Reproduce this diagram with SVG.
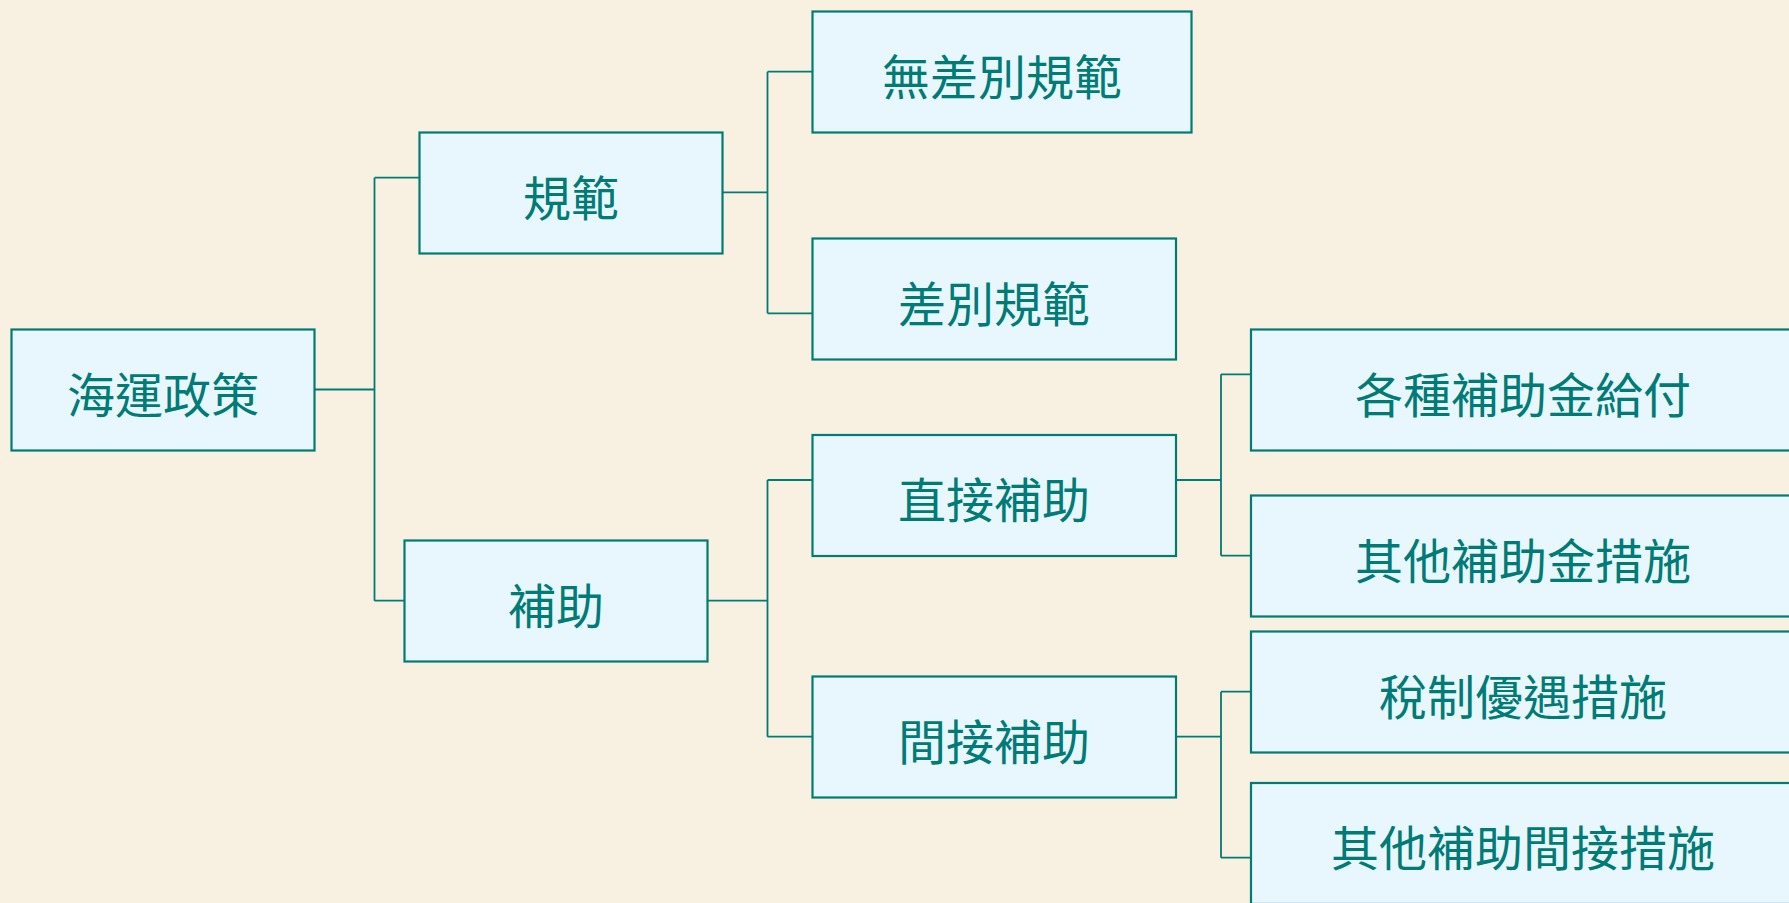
<svg xmlns="http://www.w3.org/2000/svg" width="1789" height="903" viewBox="0 0 1789 903">
<style>
.box{fill:#E8F6FE;stroke:#007B76;stroke-width:2.2}
.lbl{font-family:"Noto Sans CJK TC","Noto Sans CJK JP",sans-serif;font-size:48px;fill:#007B76;text-anchor:middle}
.conn{fill:none;stroke:#007B76;stroke-width:1.8}
</style>
<rect x="0" y="0" width="1789" height="903" fill="#F8F0E0"/>
<g id="connectors">
<path class="conn" d="M314.3,389.5H374.5M374.5,177.7V600.7M374.5,177.7H419.3M374.5,600.7H404.7"/>
<path class="conn" d="M722.3,192.3H767.5M767.5,71.7V313.3M767.5,71.7H812.5M767.5,313.3H812.5"/>
<path class="conn" d="M707.7,600.7H767.5M767.5,480V736.7M767.5,480H812.5M767.5,736.7H812.5"/>
<path class="conn" d="M1176,480H1221M1221,374.3V555.7M1221,374.3H1251M1221,555.7H1251"/>
<path class="conn" d="M1176,736.7H1221M1221,691.7V857.7M1221,691.7H1251M1221,857.7H1251"/>
</g>
<g id="n_haiyun"><rect class="box" x="11.5" y="329.5" width="303" height="121"/><text class="lbl" x="163" y="412.5">海運政策</text></g>
<g id="n_guifan"><rect class="box" x="419.5" y="132.5" width="303" height="121"/><text class="lbl" x="571" y="215.5">規範</text></g>
<g id="n_buzhu"><rect class="box" x="404.5" y="540.5" width="303" height="121"/><text class="lbl" x="556" y="623.5">補助</text></g>
<g id="n_wuchabie"><rect class="box" x="812.5" y="11.5" width="379" height="121"/><text class="lbl" x="1002" y="94.5">無差別規範</text></g>
<g id="n_chabie"><rect class="box" x="812.5" y="238.5" width="363.5" height="121"/><text class="lbl" x="994" y="321.5">差別規範</text></g>
<g id="n_zhijie"><rect class="box" x="812.5" y="435" width="363.5" height="121"/><text class="lbl" x="994" y="518">直接補助</text></g>
<g id="n_jianjie"><rect class="box" x="812.5" y="676.5" width="363.5" height="121"/><text class="lbl" x="994" y="759.5">間接補助</text></g>
<g id="n_gezhong"><rect class="box" x="1251" y="329.5" width="546" height="121"/><text class="lbl" x="1523" y="412.5">各種補助金給付</text></g>
<g id="n_qitajin"><rect class="box" x="1251" y="495.5" width="546" height="121"/><text class="lbl" x="1523" y="578.5">其他補助金措施</text></g>
<g id="n_shuizhi"><rect class="box" x="1251" y="631.5" width="546" height="121"/><text class="lbl" x="1523" y="714.5">稅制優遇措施</text></g>
<g id="n_qitajianjie"><rect class="box" x="1251" y="783" width="546" height="121"/><text class="lbl" x="1523" y="866">其他補助間接措施</text></g>
</svg>
